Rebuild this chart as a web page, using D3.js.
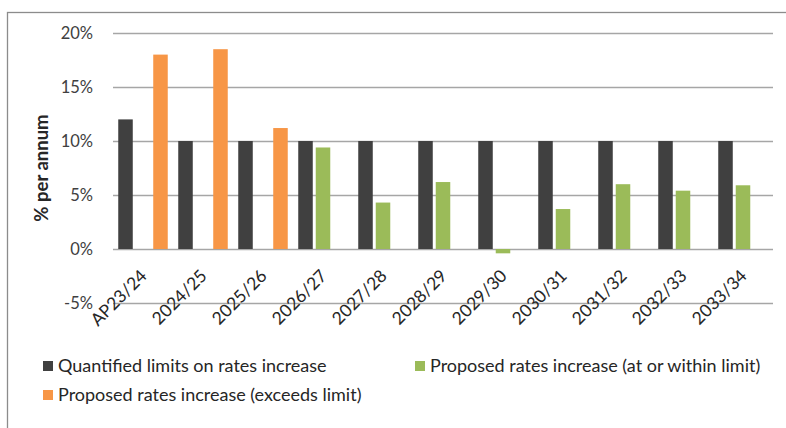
<!DOCTYPE html>
<html>
<head>
<meta charset="utf-8">
<script src="https://cdn.jsdelivr.net/npm/d3@7"></script>
<style>
  body { margin: 0; background: #fff; }
  svg { display: block; font-family: Lato, 'Open Sans', sans-serif; }
</style>
</head>
<body>
<div class="chart"></div>
<script>
// chart data
var categories = ['AP23/24', '2024/25', '2025/26', '2026/27', '2027/28', '2028/29',
    '2029/30', '2030/31', '2031/32', '2032/33', '2033/34'];
var limitValues = [12, 10, 10, 10, 10, 10, 10, 10, 10, 10, 10];
var withinValues = [null, null, null, 9.4, 4.3, 6.2, -0.4, 3.7, 6.0, 5.4, 5.9];
var exceedsValues = [18.0, 18.5, 11.2, null, null, null, null, null, null, null, null];
var yTicks = [-5, 0, 5, 10, 15, 20];

var seriesNames = ['Quantified limits on rates increase',
    'Proposed rates increase (at or within limit)',
    'Proposed rates increase (exceeds limit)'];
var seriesKeys = ['limit', 'within', 'exceeds'];
var colors = { limit: '#404040', within: '#9BBB59', exceeds: '#F79646' };

var width = 786, height = 428;
var margin = { top: 33, right: 13, bottom: 125, left: 113 };

var svg = d3.select('.chart').append('svg')
    .attr('width', width)
    .attr('height', height);

// outer frame (extends past the right and bottom edges)
svg.append('rect')
    .attr('x', 7.5).attr('y', 12.5)
    .attr('width', 900).attr('height', 600)
    .attr('fill', 'none')
    .attr('stroke', '#8c8c8c')
    .attr('stroke-width', 1.3);

// scales
var x = d3.scaleBand()
    .domain(categories)
    .range([margin.left, width - margin.right]);

var xs = d3.scaleBand()
    .domain(seriesKeys)
    .range([0, x.bandwidth()])
    .paddingInner(0.17)
    .paddingOuter(0.3);

var y = d3.scaleLinear()
    .domain([-5, 20])
    .range([height - margin.bottom, margin.top]);

// gridlines + y labels
var yAxis = svg.append('g')
    .attr('transform', 'translate(' + margin.left + ',0)')
    .call(d3.axisLeft(y)
        .tickValues(yTicks)
        .tickSize(-(width - margin.left - margin.right))
        .tickPadding(20)
        .tickFormat(function (d) { return d + '%'; }));
yAxis.select('.domain').remove();
yAxis.selectAll('.tick line')
    .attr('stroke', '#a6a6a6')
    .attr('stroke-width', 1.5);
yAxis.selectAll('.tick text')
    .attr('fill', '#404040')
    .style('font-size', '16.5px')
    .style('font-family', 'Lato, sans-serif');

// y axis title
svg.append('text')
    .attr('transform', 'translate(48,' + ((y(20) + y(-5)) / 2) + ') rotate(-90)')
    .attr('text-anchor', 'middle')
    .attr('fill', '#262626')
    .style('font-size', '18.5px')
    .style('font-weight', 'bold')
    .text('% per annum');

// bars
var rows = categories.map(function (c, i) {
    return { cat: c, limit: limitValues[i], within: withinValues[i], exceeds: exceedsValues[i] };
});

seriesKeys.forEach(function (key) {
    svg.append('g')
        .selectAll('rect')
        .data(rows.filter(function (d) { return d[key] !== null; }))
        .enter().append('rect')
        .attr('x', function (d) { return x(d.cat) + xs(key); })
        .attr('width', xs.bandwidth())
        .attr('y', function (d) { return y(Math.max(0, d[key])); })
        .attr('height', function (d) { return Math.abs(y(d[key]) - y(0)); })
        .attr('fill', colors[key]);
});

// category labels, rotated
svg.append('g')
    .selectAll('text')
    .data(categories)
    .enter().append('text')
    .attr('transform', function (d) {
        return 'translate(' + (x(d) + x.bandwidth() / 2 + 5) + ',277) rotate(-45)';
    })
    .attr('text-anchor', 'end')
    .attr('fill', '#262626')
    .style('font-size', '17.5px')
    .text(function (d) { return d; });

// legend
var legendItems = [
    { key: 'limit', x: 43, y: 361 },
    { key: 'within', x: 415, y: 361 },
    { key: 'exceeds', x: 43, y: 390 }
];
var legend = svg.append('g')
    .selectAll('g')
    .data(legendItems)
    .enter().append('g')
    .attr('transform', function (d) { return 'translate(' + d.x + ',' + d.y + ')'; });
legend.append('rect')
    .attr('width', 10).attr('height', 10)
    .attr('fill', function (d) { return colors[d.key]; });
legend.append('text')
    .attr('x', 15).attr('y', 11)
    .attr('fill', '#262626')
    .style('font-size', '18px')
    .text(function (d) { return seriesNames[seriesKeys.indexOf(d.key)]; });
</script>
</body>
</html>
